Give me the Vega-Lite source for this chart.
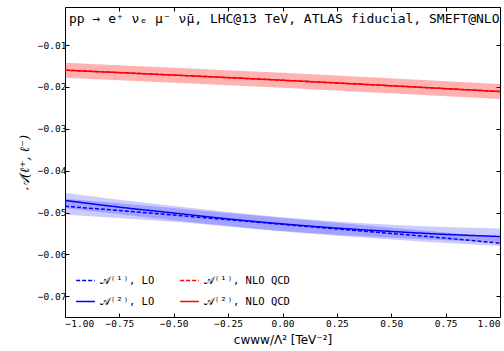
{
  "$schema": "https://vega.github.io/schema/vega-lite/v6.json",
  "width": 435,
  "height": 310,
  "autosize": {"type": "none"},
  "padding": {"left": 65, "top": 7, "right": 4, "bottom": 34},
  "config": {
    "view": {"stroke": "black", "strokeWidth": 1},
    "font": "DejaVu Sans Mono",
    "axis": {"grid": false, "domain": false, "tickColor": "black", "labelColor": "black", "labelFont": "DejaVu Sans Mono", "labelFontSize": 9.5, "tickSize": -4, "titleFontWeight": "normal", "titleColor": "black"}
  },
  "datasets": {
    "curves": [
      {"series": "𝒜⁽²⁾, LO", "x": -1.0, "y": -0.0471},
      {"series": "𝒜⁽²⁾, LO", "x": -0.75, "y": -0.0487},
      {"series": "𝒜⁽²⁾, LO", "x": -0.5, "y": -0.0501},
      {"series": "𝒜⁽²⁾, LO", "x": -0.25, "y": -0.0515},
      {"series": "𝒜⁽²⁾, LO", "x": 0.0, "y": -0.0527},
      {"series": "𝒜⁽²⁾, LO", "x": 0.25, "y": -0.0537},
      {"series": "𝒜⁽²⁾, LO", "x": 0.5, "y": -0.0545},
      {"series": "𝒜⁽²⁾, LO", "x": 0.75, "y": -0.0552},
      {"series": "𝒜⁽²⁾, LO", "x": 1.0, "y": -0.0557},
      {"series": "𝒜⁽¹⁾, LO", "x": -1.0, "y": -0.0485},
      {"series": "𝒜⁽¹⁾, LO", "x": -0.75, "y": -0.0495},
      {"series": "𝒜⁽¹⁾, LO", "x": -0.5, "y": -0.0506},
      {"series": "𝒜⁽¹⁾, LO", "x": -0.25, "y": -0.0517},
      {"series": "𝒜⁽¹⁾, LO", "x": 0.0, "y": -0.0528},
      {"series": "𝒜⁽¹⁾, LO", "x": 0.25, "y": -0.0539},
      {"series": "𝒜⁽¹⁾, LO", "x": 0.5, "y": -0.0550},
      {"series": "𝒜⁽¹⁾, LO", "x": 0.75, "y": -0.0561},
      {"series": "𝒜⁽¹⁾, LO", "x": 1.0, "y": -0.0573},
      {"series": "𝒜⁽¹⁾, NLO QCD", "x": -1.0, "y": -0.0160},
      {"series": "𝒜⁽¹⁾, NLO QCD", "x": 0.0, "y": -0.0184},
      {"series": "𝒜⁽¹⁾, NLO QCD", "x": 1.0, "y": -0.0211},
      {"series": "𝒜⁽²⁾, NLO QCD", "x": -1.0, "y": -0.0160},
      {"series": "𝒜⁽²⁾, NLO QCD", "x": 0.0, "y": -0.0184},
      {"series": "𝒜⁽²⁾, NLO QCD", "x": 1.0, "y": -0.0211}
    ],
    "bands": [
      {"band": "red", "x": -1.0, "lo": -0.0178, "hi": -0.0142},
      {"band": "red", "x": 0.0, "lo": -0.0202, "hi": -0.0166},
      {"band": "red", "x": 1.0, "lo": -0.0229, "hi": -0.0193},
      {"band": "blue2", "x": -1.0, "lo": -0.0489, "hi": -0.0453},
      {"band": "blue2", "x": -0.5, "lo": -0.0518, "hi": -0.0484},
      {"band": "blue2", "x": 0.0, "lo": -0.0544, "hi": -0.0511},
      {"band": "blue2", "x": 0.5, "lo": -0.0560, "hi": -0.0529},
      {"band": "blue2", "x": 1.0, "lo": -0.0571, "hi": -0.0538},
      {"band": "blue1", "x": -1.0, "lo": -0.0505, "hi": -0.0467},
      {"band": "blue1", "x": -0.5, "lo": -0.0522, "hi": -0.0489},
      {"band": "blue1", "x": 0.0, "lo": -0.0545, "hi": -0.0513},
      {"band": "blue1", "x": 0.5, "lo": -0.0564, "hi": -0.0536},
      {"band": "blue1", "x": 1.0, "lo": -0.0580, "hi": -0.0558}
    ],
    "label": [{"t": "pp → e⁺ νₑ μ⁻ ν̄μ, LHC@13 TeV, ATLAS fiducial, SMEFT@NLO"}]
  },
  "resolve": {"axis": {"x": "independent", "y": "independent"}},
  "layer": [
    {
      "data": {"name": "bands"},
      "transform": [{"filter": "datum.band === 'red'"}],
      "mark": {"type": "area", "color": "#ff0000", "opacity": 0.3},
      "encoding": {
        "x": {"field": "x", "type": "quantitative", "scale": {"domain": [-1, 1], "nice": false, "zero": false},
          "axis": {"orient": "top", "labels": false, "title": null, "values": [-1, -0.75, -0.5, -0.25, 0, 0.25, 0.5, 0.75, 1]}},
        "y": {"field": "lo", "type": "quantitative", "scale": {"domain": [-0.07492, -0.00092], "nice": false, "zero": false},
          "axis": {"orient": "right", "labels": false, "title": null, "values": [-0.07, -0.06, -0.05, -0.04, -0.03, -0.02, -0.01]}},
        "y2": {"field": "hi"}
      }
    },
    {
      "data": {"name": "bands"},
      "transform": [{"filter": "datum.band === 'blue1'"}],
      "mark": {"type": "area", "color": "#0000ff", "opacity": 0.2, "interpolate": "monotone"},
      "encoding": {
        "x": {"field": "x", "type": "quantitative", "axis": null},
        "y": {"field": "lo", "type": "quantitative", "axis": null},
        "y2": {"field": "hi"}
      }
    },
    {
      "data": {"name": "bands"},
      "transform": [{"filter": "datum.band === 'blue2'"}],
      "mark": {"type": "area", "color": "#0000ff", "opacity": 0.2, "interpolate": "monotone"},
      "encoding": {
        "x": {"field": "x", "type": "quantitative", "axis": null},
        "y": {"field": "lo", "type": "quantitative", "axis": null},
        "y2": {"field": "hi"}
      }
    },
    {
      "data": {"name": "curves"},
      "mark": {"type": "line", "strokeWidth": 1.5, "interpolate": "monotone"},
      "encoding": {
        "x": {"field": "x", "type": "quantitative",
          "axis": {"orient": "bottom", "title": "cwww/Λ²  [TeV⁻²]", "titleFont": "DejaVu Sans", "titleFontSize": 12, "titlePadding": 7, "format": ".2f", "labelPadding": 5, "values": [-1, -0.75, -0.5, -0.25, 0, 0.25, 0.5, 0.75, 1]}},
        "y": {"field": "y", "type": "quantitative",
          "axis": {"orient": "left", "title": "𝒜(ℓ⁺, ℓ⁻)", "titleFont": "DejaVu Serif", "titleFontStyle": "italic", "titleFontSize": 13, "titlePadding": 6, "format": ".2f", "labelPadding": 3, "values": [-0.07, -0.06, -0.05, -0.04, -0.03, -0.02, -0.01]}},
        "color": {"field": "series", "type": "nominal",
          "scale": {"domain": ["𝒜⁽¹⁾, LO", "𝒜⁽²⁾, LO", "𝒜⁽¹⁾, NLO QCD", "𝒜⁽²⁾, NLO QCD"], "range": ["#0000ff", "#0000ff", "#ff0000", "#ff0000"]},
          "legend": {"title": null, "orient": "bottom-left", "columns": 2, "columnPadding": 22, "rowPadding": 5, "symbolType": "stroke", "symbolSize": 350, "symbolStrokeWidth": 1.5, "labelFont": "DejaVu Sans Mono", "labelFontSize": 10.5, "labelColor": "black", "offset": 8, "padding": 2}},
        "strokeDash": {"field": "series", "type": "nominal",
          "scale": {"domain": ["𝒜⁽¹⁾, LO", "𝒜⁽²⁾, LO", "𝒜⁽¹⁾, NLO QCD", "𝒜⁽²⁾, NLO QCD"], "range": [[4, 2], [1, 0], [4, 2], [1, 0]]}},
        "order": {"field": "x", "type": "quantitative"}
      }
    },
    {
      "mark": {"type": "rule", "color": "#555555", "strokeDash": [1.5, 2], "strokeWidth": 1},
      "encoding": {
        "x": {"datum": 0, "type": "quantitative", "axis": null},
        "y": {"datum": -0.0102, "type": "quantitative", "axis": null},
        "y2": {"datum": -0.07492}
      }
    },
    {
      "data": {"name": "label"},
      "mark": {"type": "text", "align": "left", "baseline": "middle", "dx": 4, "dy": 12, "font": "DejaVu Sans Mono", "fontSize": 13, "color": "black"},
      "encoding": {
        "text": {"field": "t"},
        "x": {"datum": -1, "type": "quantitative", "axis": null},
        "y": {"datum": -0.00092, "type": "quantitative", "axis": null}
      }
    }
  ]
}
